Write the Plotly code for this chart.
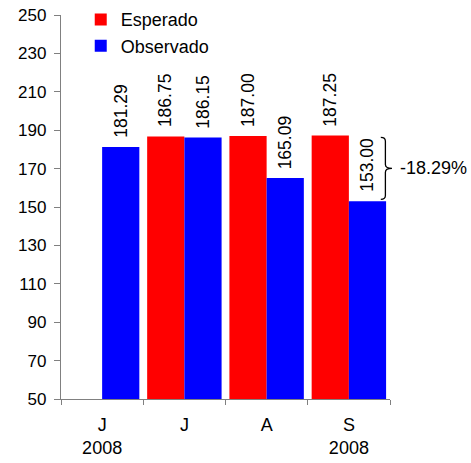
import plotly.graph_objects as go

categories = ["J<br>2008", "J", "A", "S<br>2008"]
esperado = [None, 186.75, 187.00, 187.25]
observado = [181.29, 186.15, 165.09, 153.00]

FONT = "Liberation Sans, Arial, sans-serif"
RED = "#FF0000"
BLUE = "#0000FF"

fig = go.Figure()
fig.add_trace(go.Bar(name="Esperado", x=categories, y=esperado,
                     marker=dict(color=RED, line=dict(width=0)), legendgroup="e"))
fig.add_trace(go.Bar(name="Observado", x=categories, y=observado,
                     marker=dict(color=BLUE, line=dict(width=0)), legendgroup="o"))

annotations = []
bar_off = 18.7
for vals, sh in ((esperado, -bar_off), (observado, bar_off)):
    for c, v in zip(categories, vals):
        if v is None:
            continue
        annotations.append(dict(x=c, y=v, xref="x", yref="y", text=f"{v:.2f}",
                                showarrow=False, textangle=-90, xshift=sh,
                                yanchor="bottom", xanchor="center", yshift=7,
                                font=dict(family=FONT, size=17.5, color="black")))

# percentage change between last expected and observed
e_last, o_last = esperado[-1], observado[-1]
pct = (o_last - e_last) / e_last * 100
mid = (e_last + o_last) / 2
annotations.append(dict(x=1.025, y=mid, xref="paper", yref="y", text=f"{pct:.2f}%",
                        showarrow=False, xanchor="left", yanchor="middle",
                        font=dict(family=FONT, size=18, color="black")))

x0, x1, x2 = 0.972, 0.986, 1.006
top, bot = e_last - 1.0, o_last + 1.0
path = (f"M {x0},{top} Q {x1},{top} {x1},{top-2} "
        f"L {x1},{mid+2} Q {x1},{mid} {x2},{mid} "
        f"Q {x1},{mid} {x1},{mid-2} "
        f"L {x1},{bot+2} Q {x1},{bot} {x0},{bot}")
fig.add_shape(type="path", path=path, xref="paper", yref="y",
              line=dict(color="black", width=1.3))

fig.update_layout(
    width=471, height=463,
    margin=dict(l=61, r=81, t=15, b=64, autoexpand=False),
    paper_bgcolor="white", plot_bgcolor="white",
    barmode="group", bargap=0.095, bargroupgap=0,
    font=dict(family=FONT, size=17, color="black"),
    annotations=annotations,
    showlegend=True,
    legend=dict(x=0.06, y=1.036, xanchor="left", yanchor="top",
                bgcolor="rgba(0,0,0,0)", font=dict(family=FONT, size=18),
                itemwidth=30, tracegroupgap=6, traceorder="normal"),
)
fig.update_xaxes(type="category", showline=True, linecolor="#808080", linewidth=1.3,
                 ticks="outside", tickson="boundaries", ticklen=5, tickcolor="#808080",
                 tickfont=dict(family=FONT, size=18), showgrid=False, zeroline=False,
                 ticklabelstandoff=9, automargin=False)
fig.update_yaxes(range=[50, 250], dtick=20, tick0=50, showline=True, linecolor="#808080",
                 linewidth=1.3, ticks="outside", ticklen=6, tickcolor="#808080",
                 tickfont=dict(family=FONT, size=17), showgrid=False, zeroline=False,
                 ticklabelstandoff=4, automargin=False)

fig.write_html("out.html", config={"displayModeBar": False},
               post_script="document.body.style.margin='0';")
